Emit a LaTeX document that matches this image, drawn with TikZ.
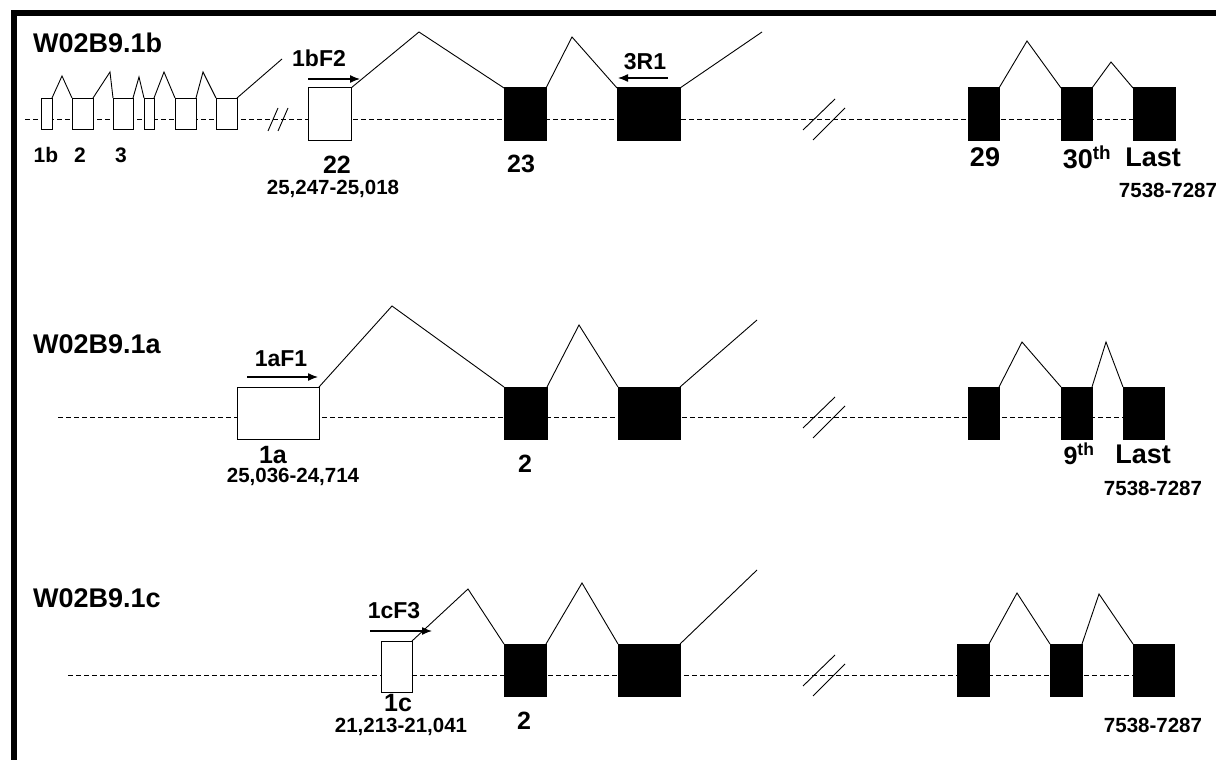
\documentclass[tikz,border=0pt]{standalone}
\usepackage{fontspec}
\setmainfont{Liberation Sans}
\usepackage{tikz}
\usetikzlibrary{arrows.meta}
\usetikzlibrary{backgrounds}
\tikzset{>={Latex[length=10pt,width=8pt]}}
\tikzset{
  exon/.style={draw, line width=1pt, inner sep=0pt, outer sep=0pt},
  intron/.style={line width=0.9pt},
  backbone/.style={line width=1pt, dash pattern=on 5pt off 3pt},
  brk/.style={line width=0.9pt},
  primer/.style={line width=1.3pt, ->},
  title/.style={font=\bfseries\fontsize{27}{27}\selectfont, anchor=west, inner sep=0pt},
  exlab/.style={font=\bfseries\fontsize{25}{25}\selectfont, inner sep=0pt},
  biglab/.style={font=\bfseries\fontsize{27}{27}\selectfont, inner sep=0pt},
  smlab/.style={font=\bfseries\fontsize{21}{21}\selectfont, inner sep=0pt},
  poslab/.style={font=\bfseries\fontsize{20.5}{20.5}\selectfont, inner sep=0pt},
  prlab/.style={font=\bfseries\fontsize{23}{23}\selectfont, inner sep=0pt},
}

\begin{document}
\begin{tikzpicture}[x=1pt, y=-1pt]
  \useasboundingbox (0,0) rectangle (1216,760);

  % Frame on top and left
  \fill (11,10) rectangle (1216,16);
  \fill (11,10) rectangle (17,760);

  % Exons: name/fill/left/right/top/bottom
  \foreach \n/\f/\xa/\xb/\ya/\yb in {
    b1/white/41/52/98/129, b2/white/72/93/98/129, b3/white/113/133/98/129,
    b4/white/144/154/98/129, b5/white/175/196/98/129, b6/white/216/237/98/129,
    e22/white/308/351/88/140, e23/black/504/546/88/140, e24/black/617/680/88/140,
    e29/black/968/999/88/140, e30/black/1061/1092/88/140, eL/black/1133/1175/88/140,
    a1/white/237/319/387/439, a2/black/504/547/387/439, a3/black/618/680/387/439,
    a8/black/968/999/387/439, a9/black/1061/1092/387/439, aL/black/1123/1164/387/439,
    c1/white/381/412/641/692, c2/black/504/546/644/696, c3/black/618/680/644/696,
    c8/black/957/989/644/696, c9/black/1050/1082/644/696, cL/black/1133/1174/644/696} {
    \node [exon, fill=\f, minimum width={\xb-\xa}, minimum height={\yb-\ya}]
      (\n) at ({(\xa+\xb)/2},{(\ya+\yb)/2}) {};
  }

  % Introns between exons
  \foreach \a/\b/\px/\py in {
    b1/b2/62/76, b2/b3/110/72, b3/b4/139/77, b4/b5/164/72, b5/b6/203/72,
    e22/e23/419/32, e23/e24/572/37, e29/e30/1027/41, e30/eL/1111/62,
    a1/a2/392/306, a2/a3/579/325, a8/a9/1022/342, a9/aL/1106/342,
    c1/c2/468/589, c2/c3/582/583, c8/c9/1017/593, c9/cL/1099/594} {
    \draw [intron] (\a.north east) -- (\px,\py) -- (\b.north west);
  }

  % Introns running into the gap
  \coordinate (b6end) at (282,59);
  \coordinate (e24end) at (762,32);
  \coordinate (a3end) at (757,320);
  \coordinate (c3end) at (757,570);
  \draw [intron] (b6.north east) -- (b6end);
  \draw [intron] (e24.north east) -- (e24end);
  \draw [intron] (a3.north east) -- (a3end);
  \draw [intron] (c3.north east) -- (c3end);

  % Dashed backbones behind the exons
  \begin{scope}[on background layer]
    \coordinate (s1) at (25,119);
    \coordinate (s2) at (58,417);
    \coordinate (s3) at (68,675);
    \draw [backbone] (s1) -- (s1 -| eL.west);
    \draw [backbone] (s2) -- (s2 -| aL.west);
    \draw [backbone] (s3) -- (s3 -| cL.west);
  \end{scope}

  % Breaks in the backbone
  \draw [brk] (268,131) -- (278,108);
  \draw [brk] (278,131) -- (288,108);
  \foreach \y in {119,417,675} {
    \draw [brk] (803,\y+11) -- (835,\y-20);
    \draw [brk] (813,\y+21) -- (845,\y-11);
  }

  % Primers
  \coordinate (f2a) at (308,79);  \coordinate (f2b) at (360,79);
  \coordinate (r1a) at (668,78);  \coordinate (r1b) at (618,78);
  \coordinate (f1a) at (247,377); \coordinate (f1b) at (318,377);
  \coordinate (f3a) at (370,631); \coordinate (f3b) at (432,631);
  \draw [primer] (f2a) -- (f2b);
  \draw [primer] (r1a) -- (r1b);
  \draw [primer] (f1a) -- (f1b);
  \draw [primer] (f3a) -- (f3b);
  \node [prlab] (p1bF2) at (319,58) {1bF2};
  \node [prlab] (p3R1) at (645,62) {3R1};
  \node [prlab] (p1aF1) at (281,359) {1aF1};
  \node [prlab] (p1cF3) at (394,611) {1cF3};

  % Isoform names
  \node [title] (tb) at (33,43) {W02B9.1b};
  \node [title] (ta) at (33,344) {W02B9.1a};
  \node [title] (tc) at (33,598) {W02B9.1c};

  % Exon labels, first isoform
  \node [smlab] (l1b) at (46,155) {1b};
  \node [smlab] (l2) at (80,155) {2};
  \node [smlab] (l3) at (121,155) {3};
  \node [exlab] (l22) at (337,165) {22};
  \node [poslab] (q22) at (333,189) {25,247-25,018};
  \node [exlab] (l23) at (521,164) {23};
  \node [biglab] (l29) at (985,157) {29};
  \node [biglab] (l30) at (1087,157) {30\textsuperscript{th}};
  \node [biglab] (lLb) at (1153,157) {Last};
  \node [poslab] (qLb) at (1168,190) {7538-7287};

  % Exon labels, second isoform
  \node [exlab] (l1a) at (273,455) {1a};
  \node [poslab] (q1a) at (293,477) {25,036-24,714};
  \node [exlab] (la2) at (525,464) {2};
  \node [exlab] (la9) at (1079,454) {9\textsuperscript{th}};
  \node [biglab] (lLa) at (1143,454) {Last};
  \node [poslab] (qLa) at (1153,488) {7538-7287};

  % Exon labels, third isoform
  \node [exlab] (l1c) at (398,703) {1c};
  \node [poslab] (q1c) at (401,727) {21,213-21,041};
  \node [exlab] (lc2) at (524,721) {2};
  \node [poslab] (qLc) at (1153,725) {7538-7287};
\end{tikzpicture}
\end{document}
